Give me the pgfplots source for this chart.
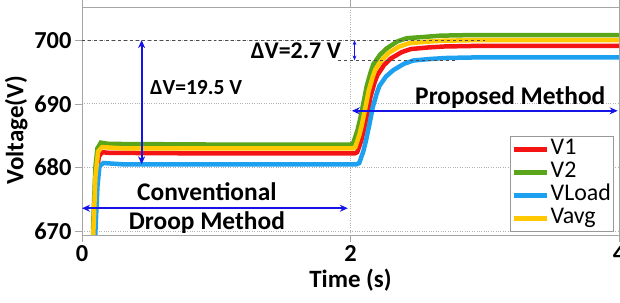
\documentclass[border=0pt]{standalone}
\usepackage{pgfplots}
\pgfplotsset{compat=1.18}
\usepackage{fontspec}
\setmainfont{Carlito}
\usetikzlibrary{arrows.meta,calc}
\definecolor{cred}{RGB}{245,20,20}
\definecolor{cgreen}{RGB}{90,165,25}
\definecolor{cblue}{RGB}{30,160,240}
\definecolor{cyellow}{RGB}{255,200,0}
\definecolor{arrblue}{RGB}{20,20,230}
\begin{document}
\begin{tikzpicture}
\begin{axis}[name=ax, scale only axis, width=537bp, height=228bp,
 xmin=0, xmax=4, ymin=669.4, ymax=705.2,
 xtick={0,2,4}, ytick={670,680,690,700},
 grid=major, grid style={gray!60, dotted, line width=0.7pt},
 axis line style={gray!70}, tick style={gray!70}, tick align=outside, major tick length=7bp,
 /pgf/number format/assume math mode=true,
 tick label style={font=\fontsize{24.5}{24.5}\selectfont\bfseries},
 xlabel={Time (s)}, ylabel={Voltage(V)},
 label style={font=\fontsize{25}{25}\selectfont\bfseries},
 every axis y label/.append style={at={(ticklabel cs:0.46)}},
 legend style={at={(0.99,0.015)}, anchor=south east, draw=gray!80, font=\fontsize{24}{24}\selectfont,
   nodes={inner sep=1bp, text height=16bp, text depth=5bp}, row sep=0bp, inner sep=1.5bp},
 legend cell align=left,
 legend image code/.code={\draw[#1] (0pt,0pt) -- (33bp,0pt);},
 legend image post style={line width=4.5bp},
]
\addplot[cred, line width=4.5bp] coordinates {
(0.065,650) (0.09,670) (0.105,678) (0.125,681.7) (0.15,682.4) (0.2,682.3) (1,682.2) (2.00,682.2) (2.03,682.2) (2.05,682.4) (2.08,684.2) (2.10,685.9) (2.13,689.0) (2.15,691.2) (2.18,693.4) (2.20,694.5) (2.25,696.1) (2.30,697.1) (2.38,698.1) (2.45,698.6) (2.58,698.85) (2.70,699.0) (2.96,699.1) (4.0,699.1)};
\addlegendentry{V1}
\addplot[cgreen, line width=4.5bp] coordinates {
(0.06,650) (0.085,672) (0.10,680) (0.115,683) (0.14,683.9) (0.2,683.7) (1,683.6) (2.00,683.6) (2.02,683.8) (2.05,685.7) (2.07,687.4) (2.10,690.5) (2.12,692.7) (2.15,694.95) (2.17,696.2) (2.22,697.7) (2.27,698.7) (2.35,699.8) (2.42,700.3) (2.55,700.5) (2.67,700.7) (2.93,700.8) (4.0,700.8)};
\addlegendentry{V2}
\addplot[cblue, line width=4.5bp] coordinates {
(0.075,650) (0.10,670) (0.115,677) (0.13,680.2) (0.16,680.7) (0.3,680.5) (2.00,680.5) (2.045,680.5) (2.065,680.7) (2.095,682.5) (2.115,684.2) (2.145,687.2) (2.165,689.4) (2.195,691.6) (2.215,692.8) (2.265,694.3) (2.32,695.3) (2.40,696.3) (2.47,696.8) (2.60,697.05) (2.72,697.2) (2.98,697.3) (4.0,697.3)};
\addlegendentry{VLoad}
\addplot[cyellow, line width=4.5bp] coordinates {
(0.06,650) (0.085,670) (0.10,678.5) (0.12,682.5) (0.15,683.2) (0.3,683.0) (2.00,683.0) (2.015,683.0) (2.035,683.17) (2.065,685.04) (2.085,686.74) (2.115,689.8) (2.135,692.0) (2.165,694.2) (2.185,695.4) (2.235,696.9) (2.285,698.0) (2.365,699.0) (2.435,699.5) (2.565,699.75) (2.685,699.9) (2.945,700.0) (4.0,700.0)};
\addlegendentry{Vavg}
% annotations
\draw[black!70, dashed, line width=0.7pt] (axis cs:0,700) -- (axis cs:3.02,700);
\draw[black!70, dashed, line width=0.7pt] (axis cs:1.91,696.8) -- (axis cs:2.79,696.8);
\draw[arrblue, line width=2bp, {Stealth[length=8bp,width=7bp]}-{Stealth[length=8bp,width=7bp]}] (axis cs:0.444,700) -- (axis cs:0.444,680.5);
\draw[arrblue, line width=1.3bp, {Stealth[length=5bp]}-{Stealth[length=5bp]}] (axis cs:2.03,700) -- (axis cs:2.03,696.8);
\node[anchor=west, font=\fontsize{21.6}{21.6}\selectfont\bfseries, inner sep=0pt] at (axis cs:0.506,692.6) {ΔV=19.5 V};
\node[anchor=east, font=\fontsize{24}{24}\selectfont\bfseries, inner sep=0pt] at (axis cs:1.93,698.4) {ΔV=2.7 V};
\draw[arrblue, line width=2bp, {Stealth[length=8bp,width=7bp]}-{Stealth[length=8bp,width=7bp]}] (axis cs:0,673.6) -- (axis cs:1.98,673.6);
\draw[arrblue, line width=2bp, {Stealth[length=8bp,width=7bp]}-{Stealth[length=8bp,width=7bp]}] (axis cs:2.01,688.9) -- (axis cs:3.99,688.9);
\node[font=\fontsize{25.5}{25.5}\selectfont\bfseries, inner sep=0pt] at (axis cs:0.93,676.2) {Conventional};
\node[font=\fontsize{25.5}{25.5}\selectfont\bfseries, inner sep=0pt] at (axis cs:0.93,671.3) {Droop Method};
\node[font=\fontsize{25.5}{25.5}\selectfont\bfseries, inner sep=0pt] at (axis cs:3.19,691.0) {Proposed Method};
\end{axis}
\pgfresetboundingbox
\path[use as bounding box] ($(ax.south west)+(-82bp,-68bp)$) rectangle ($(ax.north east)+(1bp,7bp)$);
\end{tikzpicture}
\end{document}
